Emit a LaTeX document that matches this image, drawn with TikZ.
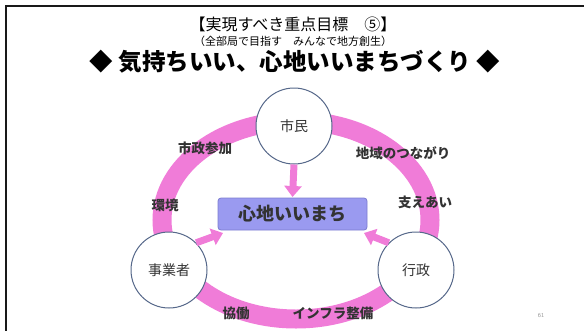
\documentclass[tikz,border=0pt]{standalone}
\usepackage{fontspec}
\newfontfamily\jp{Noto Sans CJK JP}
\usetikzlibrary{arrows.meta}
\definecolor{ringpink}{HTML}{F07CD8}
\definecolor{boxfill}{HTML}{9A9AF0}
\definecolor{boxline}{HTML}{7C7CD0}
\definecolor{circline}{HTML}{56688A}
\definecolor{txt}{HTML}{333333}
\begin{document}
\begin{tikzpicture}[x=1pt,y=-1pt,
  actor/.style={circle,draw=circline,line width=1pt,fill=white,minimum size=76pt,inner sep=0pt,font=\jp\fontsize{14}{16}\selectfont,text=txt},
  lbl/.style={font=\jp\bfseries\fontsize{13.5}{15}\selectfont,text=txt,inner sep=0pt},
  parrow/.style={draw=ringpink,line width=7pt,-{Triangle[width=17pt,length=11pt]},ringpink},
  goal/.style={draw=boxline,line width=0.8pt,fill=boxfill,rounded corners=3pt,minimum width=149pt,minimum height=32pt,font=\jp\bfseries\fontsize{18}{20}\selectfont,text=black!80}]
\useasboundingbox (0,0) rectangle (584,330);
\begin{scope}
\clip (0,0) rectangle (584,330);
\draw[line width=2.6pt,black!90] (6,340) -- (6,6) -- (600,6);
% ring
\draw[ringpink,line width=19pt] (296,220) ellipse [x radius=134, y radius=99];
\end{scope}
% titles
\node[font=\jp\fontsize{16}{18}\selectfont,inner sep=0pt] (t1) at (293,24) {【実現すべき重点目標　⑤】};
\node[font=\jp\fontsize{11}{13}\selectfont,inner sep=0pt] (t2) at (293,41) {（全部局で目指す　みんなで地方創生）};
\node[font=\jp\bfseries\fontsize{23.5}{25}\selectfont,inner sep=0pt] (t3) at (295,62) {◆ 気持ちいい、心地いいまちづくり ◆};
% central box
\node[goal] (goal) at (292.5,214) {心地いいまち};
% actors
\node[actor] (shimin) at (294,126) {市民};
\node[actor] (jigyo) at (169,270) {事業者};
\node[actor] (gyosei) at (416,270) {行政};
% arrows
\coordinate (gt) at (292.5,197);
\coordinate (gl) at (223,233);
\coordinate (gr) at (364,233);
\draw[parrow] (shimin.south) -- (gt);
\draw[parrow] (jigyo.45) -- (gl);
\draw[parrow] (gyosei.135) -- (gr);
% labels
\node[lbl] (l1) at (205,148) {市政参加};
\node[lbl] (l2) at (165,205) {環境};
\node[lbl] (l3) at (403,153) {地域のつながり};
\node[lbl] (l4) at (425,202) {支えあい};
\node[lbl] (l5) at (236,313) {協働};
\node[lbl] (l6) at (333,313) {インフラ整備};
% page number
\node[font=\sffamily\fontsize{6}{7}\selectfont,text=black!40,inner sep=0pt] (pg) at (541,316) {61};
\end{tikzpicture}
\end{document}
